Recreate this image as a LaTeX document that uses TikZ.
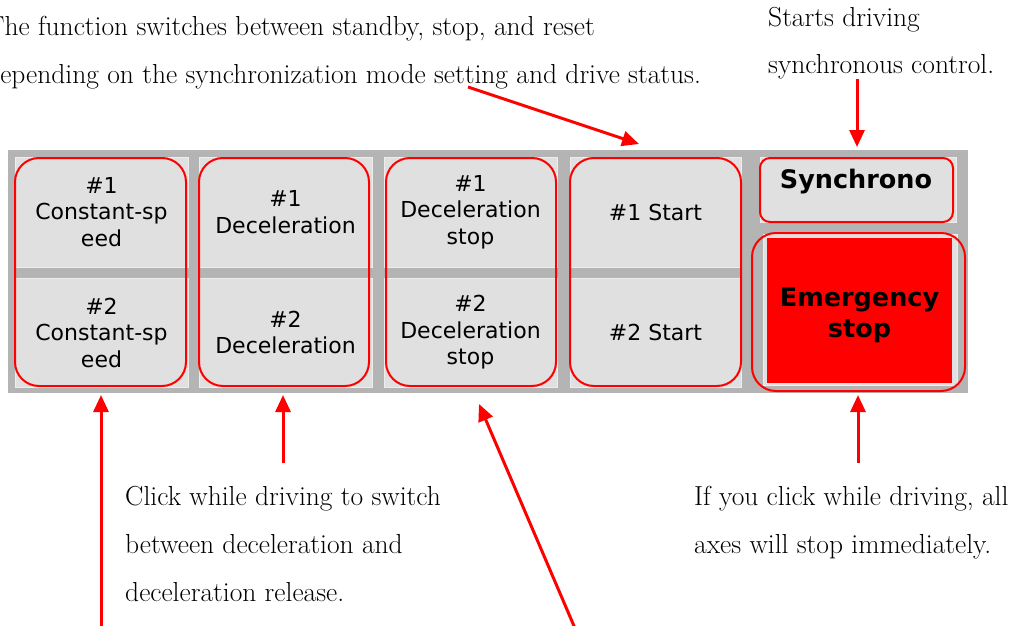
\documentclass[tikz,border=0pt]{standalone}
\usepackage{fontspec}
\newfontfamily\btnfont{DejaVu Sans}
\usetikzlibrary{arrows.meta}
\definecolor{panelgray}{HTML}{B4B4B4}
\definecolor{btngray}{HTML}{E0E0E0}
\definecolor{btnedge}{HTML}{EDEDED}
\definecolor{mark}{HTML}{FF0000}
\tikzset{
  btn/.style={rectangle, fill=btngray, draw=btnedge, line width=1pt, inner sep=0pt,
    align=center, font={\btnfont\fontsize{22}{26.5}\selectfont}},
  grp/.style={rectangle, draw=mark, line width=2pt, rounded corners=24pt, inner sep=0pt},
  note/.style={anchor=base west, inner sep=0pt, font={\fontsize{27.5}{32}\selectfont}},
  callout/.style={draw=mark, line width=3pt, -{Triangle[length=17pt,width=15pt]}}
}
\begin{document}
\begin{tikzpicture}[x=1pt,y=-1pt]
\useasboundingbox (0,0) rectangle (1015,626);
\clip (0,0) rectangle (1015,626);
% panel
\fill[panelgray] (8,150) rectangle (968,393);
% buttons
\node[btn, minimum width=173pt, minimum height=110pt] (b11) at (101.5,212) {\#1\\Constant-sp\\eed};
\node[btn, minimum width=173pt, minimum height=109pt] (b12) at (101.5,332.5) {\#2\\Constant-sp\\eed};
\node[btn, minimum width=173pt, minimum height=110pt] (b21) at (285.5,212) {\#1\\Deceleration};
\node[btn, minimum width=173pt, minimum height=109pt] (b22) at (285.5,332.5) {\#2\\Deceleration};
\node[btn, minimum width=173pt, minimum height=110pt] (b31) at (470.5,212) {\#1\\Deceleration\\stop};
\node[btn, minimum width=173pt, minimum height=109pt] (b32) at (470.5,332.5) {\#2\\Deceleration\\stop};
\node[btn, minimum width=171pt, minimum height=110pt] (b41) at (655.5,212) {\#1 Start};
\node[btn, minimum width=171pt, minimum height=109pt] (b42) at (655.5,332.5) {\#2 Start};
\node[btn, minimum width=196pt, minimum height=65pt] (bs) at (858,189.5) {};
\node[font={\btnfont\bfseries\fontsize{25.5}{30}\selectfont}, inner sep=0pt] (bst) at (856,182) {Synchrono};
\node[btn, minimum width=194pt, minimum height=151pt] (be) at (860,309.5) {};
\node[rectangle, fill=mark, inner sep=0pt, minimum width=185pt, minimum height=145pt] (bef) at (859.5,310.5) {};
\node[align=center, inner sep=0pt, font={\btnfont\bfseries\fontsize{25.5}{31}\selectfont}] (bet) at (859.5,315) {Emergency\\stop};
% red group outlines
\node[grp, minimum width=171pt, minimum height=228pt] (g1) at (100.5,272) {};
\node[grp, minimum width=170pt, minimum height=228pt] (g2) at (284,272) {};
\node[grp, minimum width=170pt, minimum height=228pt] (g3) at (471,272) {};
\node[grp, minimum width=171pt, minimum height=228pt] (g4) at (655.5,272) {};
\node[grp, rounded corners=10pt, minimum width=193pt, minimum height=64pt] (gs) at (856.5,190) {};
\node[grp, minimum width=213pt, minimum height=158pt] (ge) at (858.5,312) {};
% notes
\node[note] (t1a) at (-14,36) {The function switches between standby, stop, and reset};
\node[note] (t1b) at (-14,84) {depending on the synchronization mode setting and drive status.};
\node[note] (t2a) at (768,27) {Starts driving};
\node[note] (t2b) at (768,74) {synchronous control.};
\node[note] (t3a) at (125,505) {Click while driving to switch};
\node[note] (t3b) at (125,553) {between deceleration and};
\node[note] (t3c) at (125,601) {deceleration release.};
\node[note] (t4a) at (694,505) {If you click while driving, all};
\node[note] (t4b) at (694,553) {axes will stop immediately.};
% arrow ends
\coordinate (s1) at (468,87);   \coordinate (e1) at (639,144);
\coordinate (s2) at (857,79);   \coordinate (e2) at (857,147);
\coordinate (s3) at (101,640);  \coordinate (e3) at (101,395);
\coordinate (s4) at (283,463);  \coordinate (e4) at (283,395);
\coordinate (s5) at (580,640);  \coordinate (e5) at (479,404);
\coordinate (s6) at (858,463);  \coordinate (e6) at (858,395);
\draw[callout] (s1) -- (e1);
\draw[callout] (s2) -- (e2);
\draw[callout] (s3) -- (e3);
\draw[callout] (s4) -- (e4);
\draw[callout] (s5) -- (e5);
\draw[callout] (s6) -- (e6);
\end{tikzpicture}
\end{document}
